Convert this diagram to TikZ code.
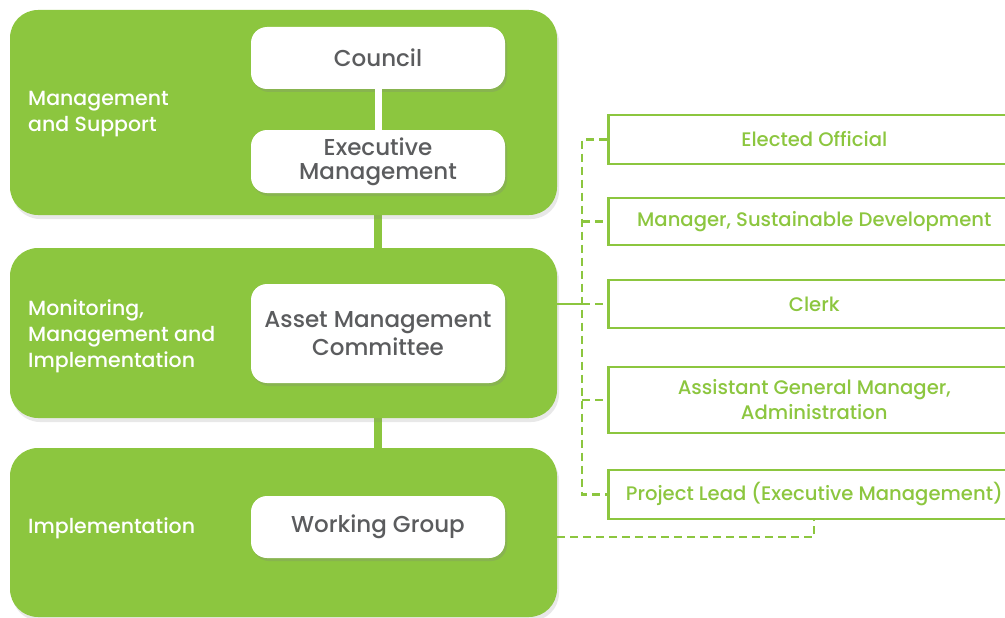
\documentclass[tikz,border=0pt]{standalone}
\usepackage{fontspec}
\setmainfont{Poppins}[UprightFont={* Medium}]
\usetikzlibrary{shadows}
\definecolor{leaf}{HTML}{8CC63F}
\definecolor{slate}{HTML}{5B5C5E}
\tikzset{
    panel/.style={fill=leaf, rounded corners=28pt, drop shadow={opacity=.18, shadow xshift=2pt, shadow yshift=-4pt}},
    unit/.style={fill=white, rounded corners=16pt, minimum width=254pt, text=slate, align=center,
        font=\fontsize{23}{24}\selectfont, drop shadow={opacity=.25, shadow xshift=2pt, shadow yshift=-3pt}},
    tier/.style={anchor=west, inner sep=0pt, text=white, align=left, font=\fontsize{20.5}{26}\selectfont},
    role/.style={draw=leaf, line width=2.6pt, anchor=west, minimum width=412pt, text=leaf,
        align=center, font=\fontsize{19.6}{25}\selectfont},
    link/.style={draw=leaf, line width=2.2pt, dash pattern=on 8pt off 5pt}
}
\begin{document}
\begin{tikzpicture}[x=1pt, y=-1pt]
\useasboundingbox (0,0) rectangle (1005,618);
% three tiers, stacked
\draw[leaf, line width=8pt] (378,200)--(378,460);
\path[panel] (10,10) rectangle (557,215);
\path[panel] (10,248) rectangle (557,418);
\path[panel] (10,448) rectangle (557,617);
\node[tier] (t1) at (28,114) {Management\\and Support};
\node[tier] (t2) at (28,336) {Monitoring,\\Management and\\Implementation};
\node[tier] (t3) at (28,528) {Implementation};

\node[unit, minimum height=62pt] (council) at (378,58) {Council};
\node[unit, minimum height=63pt] (exec) at (378,161.5) {Executive\\Management};
\node[unit, minimum height=99pt] (amc) at (378,333.5) {Asset Management\\[4pt]Committee};
\node[unit, minimum height=62pt] (wg) at (378,527) {Working Group};
\draw[white, line width=7pt] (council.south)--(exec.north);

% roles on the right
\node[role, minimum height=49pt] (r1) at (607,139.5) {Elected Official};
\node[role, minimum height=47pt] (r2) at (607,221.5) {Manager, Sustainable Development};
\node[role, minimum height=48pt] (r3) at (607,304) {Clerk};
\node[role, minimum height=66pt] (r4) at (607,400) {Assistant General Manager,\\Administration};
\node[role, minimum height=49pt] (r5) at (607,494.5) {Project Lead (Executive Management)};

\coordinate (spine) at (582,0);
\coordinate (wgout) at (557,537);
\draw[link] (r1.west)--(spine |- r1.west)--(spine |- r5.west)--(r5.west);
\foreach \r in {r2,r3,r4}
    \draw[link] (spine |- \r.west)--(\r.west);
\draw[leaf, line width=2.2pt] (wgout |- r3.west)--(spine |- r3.west);
\draw[link] (wgout)-|(r5.south);
\end{tikzpicture}
\end{document}
